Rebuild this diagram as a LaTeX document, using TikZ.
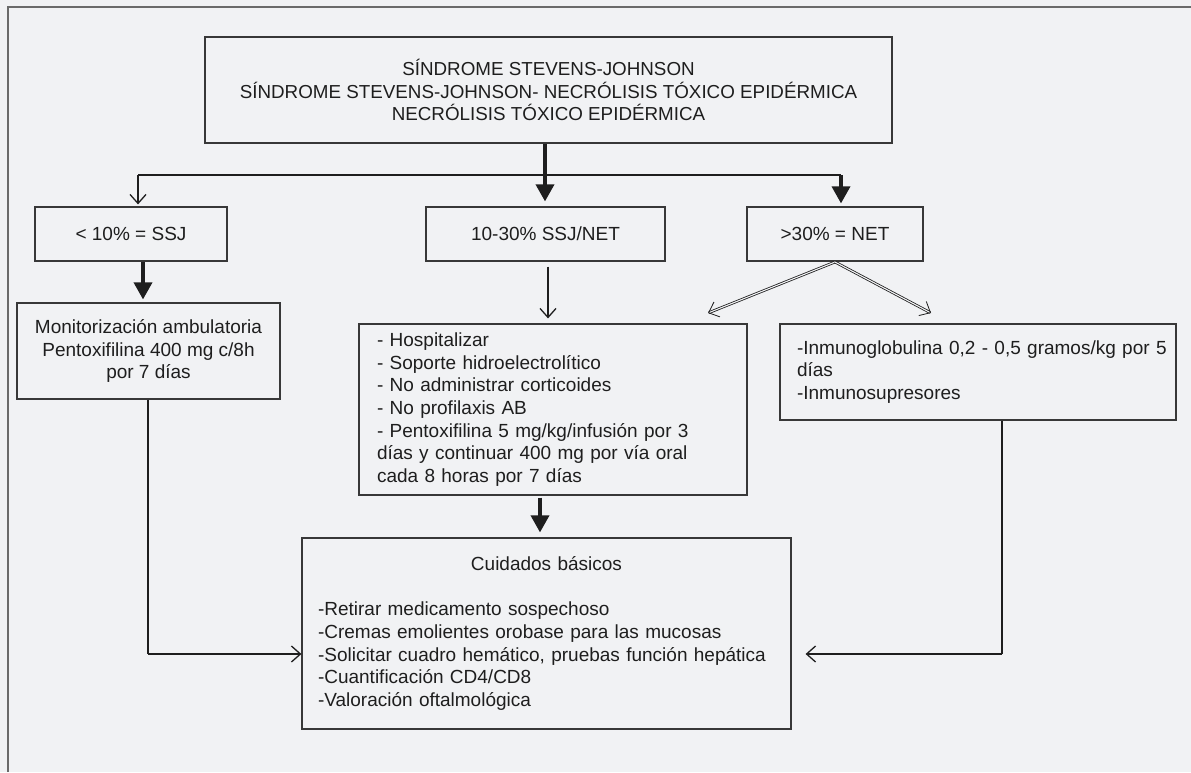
\documentclass[tikz,border=0pt]{standalone}
\usepackage{fontspec}
\setmainfont{Liberation Sans}
\usetikzlibrary{arrows.meta}
\definecolor{bg}{HTML}{F1F2F4}
\definecolor{ink}{HTML}{1E1E1E}
\definecolor{edge}{HTML}{383838}
\definecolor{frame}{HTML}{6A6A6A}
\begin{document}
\begin{tikzpicture}[x=1pt,y=-1pt,
  box/.style={draw=edge, line width=1.2pt, inner sep=0pt, text=ink,
    font=\fontsize{19}{22.7}\selectfont},
  bigarrow/.style={draw=ink, line width=3.5pt, -{Triangle[length=17pt,width=18pt]}},
  openarrow/.style={draw=ink, line width=1.7pt,
    -{Straight Barb[length=9pt,width=16pt,line width=1.3pt]}},
  dblarrow/.style={draw=ink, line width=0.8pt, double=bg, double distance=1.1pt,
    -{Straight Barb[length=9pt,width=16pt]}},
  plain/.style={draw=ink, line width=1.2pt}
]
\fill[bg] (0,0) rectangle (1191,772);
\useasboundingbox (0,0) rectangle (1191,772);
\draw[frame, line width=1.6pt] (8,772) -- (8,7) -- (1191,7);

\node[box, minimum width=687pt, minimum height=106pt, align=center,
  font=\fontsize{18.8}{22.7}\selectfont] (top) at (548.5,90)
  {SÍNDROME STEVENS-JOHNSON\\SÍNDROME STEVENS-JOHNSON- NECRÓLISIS TÓXICO EPIDÉRMICA\\NECRÓLISIS TÓXICO EPIDÉRMICA};

\node[box, minimum width=192pt, minimum height=54pt] (lt) at (131,234) {< 10\% = SSJ};
\node[box, minimum width=239pt, minimum height=54pt] (mid) at (545.5,234) {10-30\% SSJ/NET};
\node[box, minimum width=176pt, minimum height=54pt] (gt) at (835,234) {>30\% = NET};

\node[box, minimum width=263pt, minimum height=96pt, align=center] (mon) at (148.5,351)
  {Monitorización ambulatoria\\Pentoxifilina 400 mg c/8h\\por 7 días};

\node[box, minimum width=388pt, minimum height=171pt, text width=352pt, align=left] (hosp) at (553,409.5)
  {\mbox{- Hospitalizar}\\\mbox{- Soporte hidroelectrolítico}\\\mbox{- No administrar corticoides}\\\mbox{- No profilaxis AB}\\\mbox{- Pentoxifilina 5 mg/kg/infusión por 3}\\\mbox{días y continuar 400 mg por vía oral}\\\mbox{cada 8 horas por 7 días}};

\node[box, minimum width=396pt, minimum height=96pt, text width=362pt, align=left] (inm) at (978,372)
  {\mbox{-Inmunoglobulina 0,2 - 0,5 gramos/kg por 5}\\\mbox{días}\\\mbox{-Inmunosupresores}};

\node[box, minimum width=489pt, minimum height=191pt, text width=457pt, align=left] (cuid) at (546.5,633.5)
  {\hbox to 457pt{\hfil Cuidados básicos\hfil}\\[22.7pt]\mbox{-Retirar medicamento sospechoso}\\\mbox{-Cremas emolientes orobase para las mucosas}\\\mbox{-Solicitar cuadro hemático, pruebas función hepática}\\\mbox{-Cuantificación CD4/CD8}\\\mbox{-Valoración oftalmológica}};

% connectors
\coordinate (hl) at (138,175);
\coordinate (hr) at (841,175);
\draw[plain] (hl) -- (hr);
\draw[bigarrow, shorten >=5pt] (top.south -| 545,0) -- (mid.north -| 545,0);
\draw[openarrow, shorten >=2pt] (hl) -- (lt.north -| hl);
\draw[bigarrow, shorten >=3pt] (hr) -- (gt.north -| hr);
\draw[bigarrow, shorten >=3pt] (lt.south -| 143,0) -- (mon.north -| 143,0);
\draw[openarrow, shorten <=5pt, shorten >=5pt] (mid.south -| 548,0) -- (hosp.north -| 548,0);
\coordinate (gs) at (835,262);
\coordinate (gl) at (708,313);
\coordinate (gr) at (931,313);
\draw[dblarrow] (gs) -- (gl);
\draw[dblarrow] (gs) -- (gr);
\draw[bigarrow, shorten <=2pt, shorten >=5pt] (hosp.south -| 540,0) -- (cuid.north -| 540,0);
\coordinate (ml) at (148,654);
\draw[plain] (mon.south -| ml) -- (ml);
\draw[openarrow] (ml) -- (cuid.west |- ml);
\coordinate (mr) at (1002,654);
\draw[plain] (inm.south -| mr) -- (mr);
\draw[openarrow, shorten >=14pt] (mr) -- (cuid.east |- mr);
\end{tikzpicture}
\end{document}
